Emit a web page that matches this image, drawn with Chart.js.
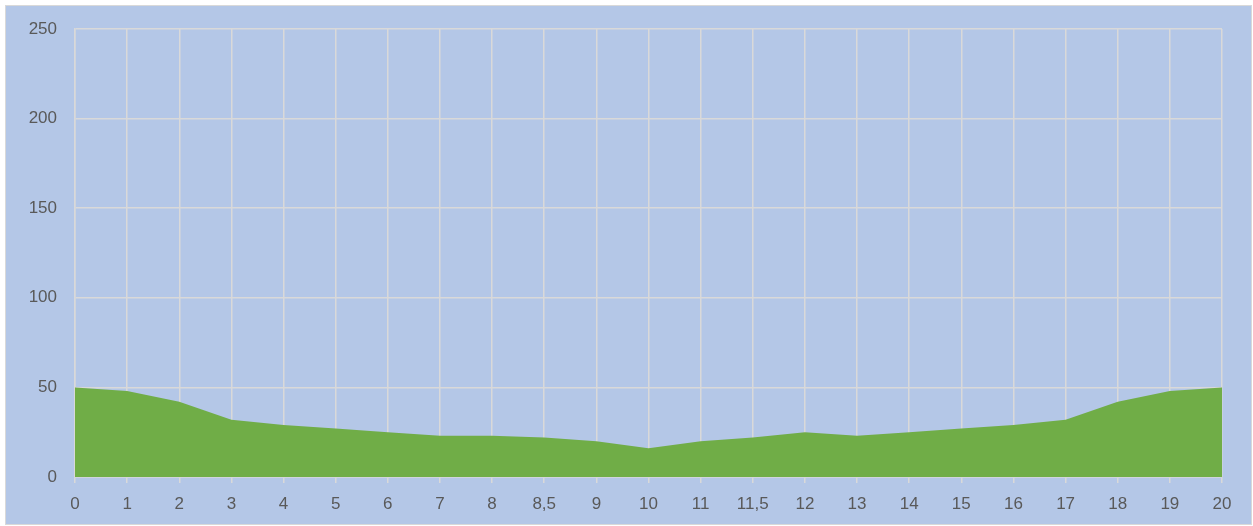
<!DOCTYPE html>
<html>
<head>
<meta charset="utf-8">
<script src="https://cdn.jsdelivr.net/npm/chart.js@4/dist/chart.umd.min.js"></script>
<style>
    body { margin: 0; background: #fff; }
    #wrap {
        position: absolute; left: 5px; top: 5px;
        width: 1247px; height: 520px;
        box-sizing: border-box;
        border: 1px solid #d9d9d9;
        background: #b4c7e7;
    }
    canvas { display: block; }
</style>
</head>
<body>
<div id="wrap"><canvas id="areaChart" width="1245" height="518"></canvas></div>
<script>
const categories = ['0', '1', '2', '3', '4', '5', '6', '7', '8', '8,5', '9', '10',
    '11', '11,5', '12', '13', '14', '15', '16', '17', '18', '19', '20'];
const values = [50, 48, 42, 32, 29, 27, 25, 23, 23, 22, 20, 16,
    20, 22, 25, 23, 25, 27, 29, 32, 42, 48, 50];
const yTicks = [0, 50, 100, 150, 200, 250];

const gridColor = '#d9d9d9';
const labelFont = { family: '"Liberation Sans", Arial, sans-serif', size: 17 };

const ctx = document.getElementById('areaChart').getContext('2d');
const chart = new Chart(ctx, {
    type: 'line',
    data: {
        labels: categories,
        datasets: [{
            data: values,
            fill: 'origin',
            backgroundColor: '#70ad47',
            borderWidth: 0,
            pointRadius: 0,
            tension: 0
        }]
    },
    options: {
        responsive: false,
        animation: false,
        layout: { padding: { left: 0, right: 29, top: 23, bottom: 0 } },
        plugins: { legend: { display: false }, tooltip: { enabled: false } },
        scales: {
            x: {
                offset: false,
                grid: { color: gridColor, lineWidth: 1.5, tickLength: 6, drawTicks: true },
                border: { color: gridColor, width: 1.5 },
                ticks: { color: '#595959', font: labelFont, padding: 11, maxRotation: 0, autoSkip: false },
                afterFit: (s) => { s.height = 47; }
            },
            y: {
                min: 0,
                max: 250,
                afterBuildTicks: (s) => { s.ticks = yTicks.map(v => ({ value: v })); },
                grid: { color: gridColor, lineWidth: 1.5, drawTicks: false },
                border: { color: gridColor, width: 1.5 },
                ticks: { color: '#595959', font: labelFont, padding: 18 },
                afterFit: (s) => {
                    s.width = 69;
                    // label overflow would push the plot down, layout padding handles it
                    s.paddingTop = 0;
                    s.paddingBottom = 0;
                }
            }
        }
    }
});
</script>
</body>
</html>
